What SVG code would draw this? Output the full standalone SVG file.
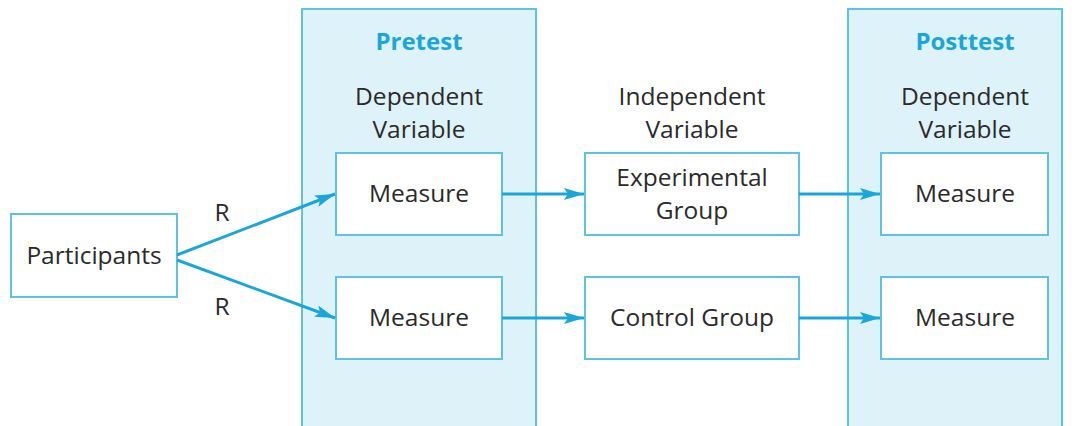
<svg xmlns="http://www.w3.org/2000/svg" width="1072" height="426" viewBox="0 0 1072 426">
<style>
.panel{fill:#def2fa;stroke:#5ec3e3;stroke-width:2}
.box{fill:#ffffff;stroke:#5ec3e3;stroke-width:2}
.t{font-family:"Open Sans","Liberation Sans",sans-serif;font-size:24.5px;fill:#2a2a2a;text-anchor:middle}
.h{font-family:"Open Sans","Liberation Sans",sans-serif;font-size:24px;font-weight:bold;fill:#1ba6db;text-anchor:middle}
.c{stroke:#1ba6db;stroke-width:3;fill:none}
</style>
<defs>
<marker id="ah" viewBox="0 0 20 12" refX="20" refY="6" markerWidth="20" markerHeight="12" markerUnits="userSpaceOnUse" orient="auto">
<path d="M0,0 L20,6 L0,12 L4,6 Z" fill="#1ba6db"/>
</marker>
</defs>
<rect width="1072" height="426" fill="#ffffff"/>
<g id="pretest">
<rect class="panel" x="302" y="9" width="234" height="430"/>
<text class="h" x="419" y="50">Pretest</text>
<text class="t" x="419" y="105">Dependent</text>
<text class="t" x="419" y="138">Variable</text>
</g>
<g id="posttest">
<rect class="panel" x="848" y="9" width="214" height="430"/>
<text class="h" x="965" y="50">Posttest</text>
<text class="t" x="965" y="105">Dependent</text>
<text class="t" x="965" y="138">Variable</text>
</g>
<g id="iv-label">
<text class="t" x="692" y="105">Independent</text>
<text class="t" x="692" y="138">Variable</text>
</g>
<g id="participants">
<rect class="box" x="11" y="214" width="166" height="83"/>
<text class="t" x="94" y="264">Participants</text>
</g>
<g id="pre-measure-1">
<rect class="box" x="336" y="153" width="166" height="82"/>
<text class="t" x="419" y="202">Measure</text>
</g>
<g id="pre-measure-2">
<rect class="box" x="336" y="277" width="166" height="82"/>
<text class="t" x="419" y="326">Measure</text>
</g>
<g id="experimental">
<rect class="box" x="585" y="153" width="214" height="82"/>
<text class="t" x="692" y="186">Experimental</text>
<text class="t" x="692" y="219">Group</text>
</g>
<g id="control">
<rect class="box" x="585" y="277" width="214" height="82"/>
<text class="t" x="692" y="326">Control Group</text>
</g>
<g id="post-measure-1">
<rect class="box" x="881" y="153" width="167" height="82"/>
<text class="t" x="965" y="202">Measure</text>
</g>
<g id="post-measure-2">
<rect class="box" x="881" y="277" width="167" height="82"/>
<text class="t" x="965" y="326">Measure</text>
</g>
<g id="connectors">
<line class="c" x1="177" y1="255" x2="335" y2="194" marker-end="url(#ah)"/>
<line class="c" x1="177" y1="260" x2="335" y2="318" marker-end="url(#ah)"/>
<line class="c" x1="502" y1="194" x2="584" y2="194" marker-end="url(#ah)"/>
<line class="c" x1="502" y1="318" x2="584" y2="318" marker-end="url(#ah)"/>
<line class="c" x1="799" y1="194" x2="880" y2="194" marker-end="url(#ah)"/>
<line class="c" x1="799" y1="318" x2="880" y2="318" marker-end="url(#ah)"/>
<text class="t" x="222" y="221">R</text>
<text class="t" x="222" y="315">R</text>
</g>
</svg>
